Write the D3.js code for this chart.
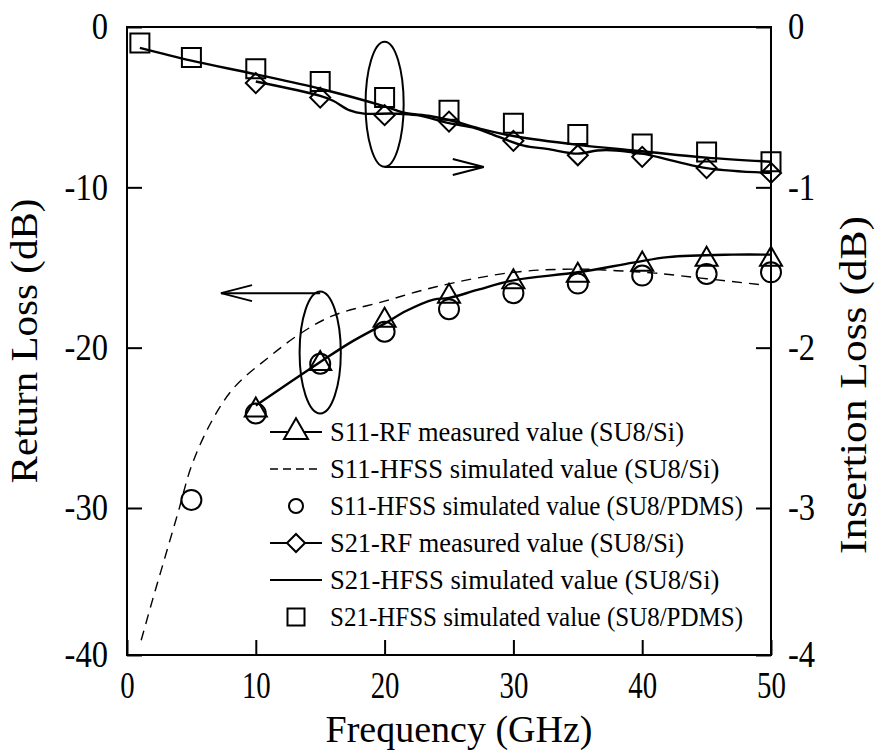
<!DOCTYPE html>
<html>
<head>
<meta charset="utf-8">
<script src="https://cdn.jsdelivr.net/npm/d3@7"></script>
<style>
  body { margin: 0; }
  svg text { font-family: "Liberation Serif", "DejaVu Serif", serif; }
</style>
</head>
<body>
<script>
const width = 878,
  height = 753;

const plot = { left: 127, right: 771, top: 27, bottom: 655 };

// x ticks / y ticks
const freqTicks = [0, 10, 20, 30, 40, 50];
const rlTicks = [0, -10, -20, -30, -40];
const ilTicks = [0, -1, -2, -3, -4];

// S11 (return loss, left axis)
const s11MeasFreq = [10, 15, 20, 25, 30, 35, 40, 45, 50];
const s11MeasVal = [-23.9, -21.0, -18.3, -16.8, -15.9, -15.5, -14.8, -14.5, -14.5];
const s11MeasLineFreq = [10, 15, 17.3, 20, 21.7, 23.8, 25, 27.2, 30, 35, 39.3, 42, 47, 50];
const s11MeasLineVal = [-23.6, -20.9, -19.7, -18.5, -17.7, -17.0, -16.9, -16.4, -15.8, -15.3, -14.7, -14.35, -14.2, -14.2];
const s11SiFreq = [1.1, 2, 3, 4, 5, 6.5, 8.3, 11, 13.5, 16, 20, 24, 30, 35, 38, 41, 45, 49.5];
const s11SiVal = [-39, -36.2, -33.2, -30.2, -27.4, -24.7, -22.5, -20.6, -19.1, -18.0, -17.1, -16.2, -15.3, -15.1, -15.2, -15.35, -15.7, -16.1];
const s11PdmsFreq = [5, 10, 15, 20, 25, 30, 35, 40, 45, 50];
const s11PdmsVal = [-29.5, -24.1, -21.0, -19.0, -17.6, -16.6, -16.0, -15.5, -15.4, -15.3];

// S21 (insertion loss, right axis)
const s21MeasFreq = [10, 15, 20, 25, 30, 35, 40, 45, 50];
const s21MeasVal = [-0.35, -0.44, -0.55, -0.59, -0.71, -0.80, -0.81, -0.88, -0.91];
const s21MeasLineFreq = [10, 15, 16, 17.3, 18.4, 20.7, 22.5, 25, 27, 28.2, 30.8, 32.6, 35, 36.5, 38, 40, 45, 50];
const s21MeasLineVal = [-0.34, -0.43, -0.46, -0.52, -0.54, -0.54, -0.55, -0.60, -0.63, -0.665, -0.74, -0.76, -0.79, -0.77, -0.77, -0.79, -0.88, -0.91];
const s21SiFreq = [1, 5, 10, 15, 20, 21.5, 23.5, 25, 27.7, 30, 35, 40, 45, 50];
const s21SiVal = [-0.13, -0.21, -0.295, -0.385, -0.495, -0.535, -0.555, -0.58, -0.64, -0.68, -0.735, -0.775, -0.815, -0.84];
const s21PdmsFreq = [1, 5, 10, 15, 20, 25, 30, 35, 40, 45, 50];
const s21PdmsVal = [-0.10, -0.19, -0.26, -0.34, -0.44, -0.52, -0.60, -0.67, -0.73, -0.78, -0.84];

const legendLabels = [
  "S11-RF measured value (SU8/Si)",
  "S11-HFSS simulated value (SU8/Si)",
  "S11-HFSS simulated value (SU8/PDMS)",
  "S21-RF measured value (SU8/Si)",
  "S21-HFSS simulated value (SU8/Si)",
  "S21-HFSS simulated value (SU8/PDMS)"
];

const zip = (xs, ys) => xs.map((x, i) => [x, ys[i]]);

const x = d3.scaleLinear([0, 50], [plot.left, plot.right]);
// the scanned axis is a bit shorter below -30 dB
const yL = d3.scaleLinear([-40, -30, 0], [plot.bottom, 508, plot.top]);
const yR = d3.scaleLinear([-4, -3, 0], [plot.bottom, 508, plot.top]);

const svg = d3
  .select("body")
  .append("svg")
  .attr("width", width)
  .attr("height", height);

svg.append("rect").attr("width", width).attr("height", height).attr("fill", "#fff");

const fmt = d => (d < 0 ? "-" + Math.abs(d) : "" + d);

// axes (inward ticks)
const gx = svg
  .append("g")
  .attr("transform", "translate(0," + plot.bottom + ")")
  .call(d3.axisBottom(x).tickValues(freqTicks).tickSizeInner(-15).tickSizeOuter(0).tickPadding(17).tickFormat(fmt));

const gl = svg
  .append("g")
  .attr("transform", "translate(" + plot.left + ",0)")
  .call(d3.axisLeft(yL).tickValues(rlTicks).tickSizeInner(-15).tickSizeOuter(0).tickPadding(19).tickFormat(fmt));

const gr = svg
  .append("g")
  .attr("transform", "translate(" + plot.right + ",0)")
  .call(d3.axisRight(yR).tickValues(ilTicks).tickSizeInner(-15).tickSizeOuter(0).tickPadding(17).tickFormat(fmt));

[gx, gl, gr].forEach(g => {
  g.attr("font-family", null);
  g.select(".domain").remove();
  g.selectAll("line").attr("stroke", "#000").attr("stroke-width", 2);
  g.selectAll("text").attr("font-size", 37).attr("fill", "#000");
});
gx.selectAll("text").attr("transform", "scale(0.78,1)");
gl.selectAll("text").attr("transform", "scale(0.88,1)").attr("x", -19 / 0.88);
gr.selectAll("text").attr("transform", "scale(0.88,1)").attr("x", 17 / 0.88);

// frame
svg
  .append("rect")
  .attr("x", plot.left)
  .attr("y", plot.top)
  .attr("width", plot.right - plot.left)
  .attr("height", plot.bottom - plot.top)
  .attr("fill", "none")
  .attr("stroke", "#000")
  .attr("stroke-width", 2);

// axis titles (the source face is monospaced, ~17.8px per character)
const title = (label, transform) =>
  svg
    .append("text")
    .attr("transform", transform)
    .attr("text-anchor", "middle")
    .attr("font-size", 38)
    .attr("textLength", label.length * 17.8)
    .attr("lengthAdjust", "spacingAndGlyphs")
    .text(label);

title("Frequency (GHz)", "translate(459,742)");
title("Return Loss (dB)", "translate(37,341) rotate(-90)");
title("Insertion Loss (dB)", "translate(866,385) rotate(-90)");

// lines
const lineL = d3.line().x(d => x(d[0])).y(d => yL(d[1])).curve(d3.curveCatmullRom);
const lineR = d3.line().x(d => x(d[0])).y(d => yR(d[1])).curve(d3.curveCatmullRom);

const data = svg.append("g").attr("fill", "none").attr("stroke", "#000");

data.append("path").attr("d", lineL(zip(s11SiFreq, s11SiVal))).attr("stroke-width", 1.4).attr("stroke-dasharray", "10,7");
data.append("path").attr("d", lineL(zip(s11MeasLineFreq, s11MeasLineVal))).attr("stroke-width", 2.4);
data.append("path").attr("d", lineR(zip(s21SiFreq, s21SiVal))).attr("stroke-width", 2.4);
data.append("path").attr("d", lineR(zip(s21MeasLineFreq, s21MeasLineVal))).attr("stroke-width", 2.4);

// markers
function markers(xs, ys, y, type, size, rot) {
  data
    .append("g")
    .selectAll("path")
    .data(zip(xs, ys))
    .join("path")
    .attr("transform", d => "translate(" + x(d[0]) + "," + y(d[1]) + ")" + (rot ? " rotate(45)" : ""))
    .attr("d", d3.symbol(type, size))
    .attr("stroke-width", 2);
}

markers(s21PdmsFreq, s21PdmsVal, yR, d3.symbolSquare, 361);
markers(s11PdmsFreq, s11PdmsVal, yL, d3.symbolCircle, 314);
markers(s11MeasFreq, s11MeasVal, yL, d3.symbolTriangle, 210);
markers(s21MeasFreq, s21MeasVal, yR, d3.symbolSquare, 200, true);

// annotations: ellipse + arrow pointing to the matching axis
function callout(cf, cv, y, rf, rv, fromV, toF) {
  const cx = x(cf), cy = y(cv);
  const rx = x(cf + rf) - cx, ry = y(cv - rv) - cy;
  data.append("ellipse").attr("cx", cx).attr("cy", cy).attr("rx", rx).attr("ry", ry).attr("stroke-width", 2);
  const ay = y(fromV), tip = x(toF), dir = tip > cx ? -1 : 1;
  data.append("path").attr("d", "M" + cx + "," + ay + "H" + tip).attr("stroke-width", 2);
  data
    .append("path")
    .attr("d", "M" + (tip + dir * 31) + "," + (ay - 8) + "L" + tip + "," + ay + "L" + (tip + dir * 31) + "," + (ay + 8))
    .attr("stroke-width", 2);
}
callout(20, -0.482, yR, 1.48, 0.39, -0.873, 27.7);
callout(15, -20.3, yL, 1.6, 3.8, -16.6, 7.3);

// legend
const legendX = 296, legendY = 432, legendStep = 37;
const legend = svg.append("g");
legendLabels.forEach((label, i) => {
  const ly = legendY + i * legendStep;
  legend
    .append("text")
    .attr("x", 330)
    .attr("y", ly)
    .attr("dy", "0.35em")
    .attr("font-size", 27)
    .attr("textLength", label.length * 11.8)
    .attr("lengthAdjust", "spacingAndGlyphs")
    .text(label);
  if (i === 0 || i === 3 || i === 4 || i === 1) {
    legend
      .append("line")
      .attr("x1", 270)
      .attr("x2", 322)
      .attr("y1", ly)
      .attr("y2", ly)
      .attr("stroke", "#000")
      .attr("stroke-width", i === 1 ? 1.4 : 2)
      .attr("stroke-dasharray", i === 1 ? "8,5" : null);
  }
  const sym = [
    [d3.symbolTriangle, 250, false],
    null,
    [d3.symbolCircle, 154, false],
    [d3.symbolSquare, 162, true],
    null,
    [d3.symbolSquare, 289, false]
  ][i];
  if (sym) {
    legend
      .append("path")
      .attr("transform", "translate(" + legendX + "," + ly + ")" + (sym[2] ? " rotate(45)" : ""))
      .attr("d", d3.symbol(sym[0], sym[1]))
      .attr("fill", "#fff")
      .attr("stroke", "#000")
      .attr("stroke-width", 2);
  }
});
</script>
</body>
</html>
